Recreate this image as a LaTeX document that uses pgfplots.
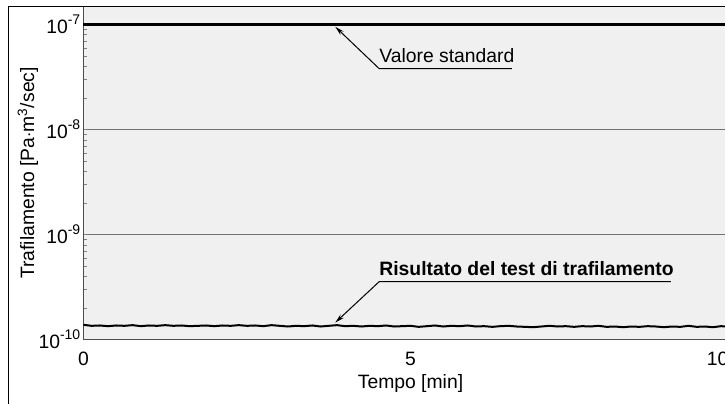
\documentclass[border=0pt]{standalone}
\usepackage{fontspec}
\setmainfont{Liberation Sans}
\usepackage{pgfplots}
\pgfplotsset{compat=1.18}
\usetikzlibrary{arrows.meta}
\definecolor{plotbg}{RGB}{240,240,240}
\newcommand\sups[1]{\raisebox{6.5pt}{\fontsize{10.5}{12}\selectfont #1}}

\pgfplotstableread{
x      y
0.000  1.38e-10
0.125  1.35e-10
0.250  1.36e-10
0.375  1.34e-10
0.500  1.36e-10
0.625  1.35e-10
0.750  1.37e-10
0.875  1.34e-10
1.000  1.36e-10
1.125  1.35e-10
1.250  1.37e-10
1.375  1.35e-10
1.500  1.36e-10
1.625  1.34e-10
1.750  1.35e-10
1.875  1.36e-10
2.000  1.34e-10
2.125  1.36e-10
2.250  1.35e-10
2.375  1.37e-10
2.500  1.35e-10
2.625  1.36e-10
2.750  1.34e-10
2.875  1.37e-10
3.000  1.35e-10
3.125  1.33e-10
3.250  1.35e-10
3.375  1.34e-10
3.500  1.36e-10
3.625  1.33e-10
3.750  1.35e-10
3.875  1.37e-10
4.000  1.34e-10
4.125  1.35e-10
4.250  1.33e-10
4.375  1.35e-10
4.500  1.34e-10
4.625  1.36e-10
4.750  1.33e-10
4.875  1.34e-10
5.000  1.35e-10
5.125  1.32e-10
5.250  1.34e-10
5.375  1.36e-10
5.500  1.33e-10
5.625  1.35e-10
5.750  1.34e-10
5.875  1.36e-10
6.000  1.33e-10
6.125  1.34e-10
6.250  1.32e-10
6.375  1.34e-10
6.500  1.35e-10
6.625  1.33e-10
6.750  1.32e-10
6.875  1.31e-10
7.000  1.33e-10
7.125  1.35e-10
7.250  1.33e-10
7.375  1.34e-10
7.500  1.32e-10
7.625  1.34e-10
7.750  1.33e-10
7.875  1.35e-10
8.000  1.32e-10
8.125  1.33e-10
8.250  1.31e-10
8.375  1.33e-10
8.500  1.32e-10
8.625  1.34e-10
8.750  1.33e-10
8.875  1.31e-10
9.000  1.33e-10
9.125  1.32e-10
9.250  1.35e-10
9.375  1.32e-10
9.500  1.33e-10
9.625  1.31e-10
9.750  1.34e-10
9.875  1.32e-10
10.000 1.33e-10
}\leaktest

\pgfplotstableread{
x   y
0   1e-7
10  1e-7
}\standard

\begin{document}
\begin{tikzpicture}
\begin{axis}[
  scale only axis,
  width=490.5pt, height=249.75pt,
  xmin=0, xmax=10,
  ymode=log, ymin=1e-10, ymax=1.483e-7,
  xtick={0,5}, xticklabels={0,5},
  extra x ticks={10}, extra x tick labels={10},
  extra x tick style={xticklabel style={xshift=-15pt}},
  ytick={1e-10,1e-9,1e-8,1e-7},
  yticklabels={10\sups{-10},10\sups{-9},10\sups{-8},10\sups{-7}},
  major tick length=0pt,
  ymajorgrids,
  grid style={black!55, line width=0.75pt},
  axis background/.style={fill=plotbg},
  axis line style={black!70, line width=0.75pt},
  ticklabel style={font=\fontsize{14.5}{17}\selectfont},
  xticklabel style={anchor=center, yshift=-14.6pt},
  yticklabel style={anchor=base east, inner sep=0pt, xshift=-2.2pt, yshift=-6.5pt},
  label style={font=\fontsize{14.5}{17}\selectfont},
  xlabel={Tempo [min]},
  ylabel={Trafilamento [Pa$\cdot$m\textsuperscript{3}/sec]},
  xlabel style={at={(axis description cs:0.5,0)}, anchor=center, yshift=-33pt},
  ylabel style={at={(axis description cs:0,0.5)}, anchor=center, yshift=41.6pt},
  clip=false,
]
\addplot[black, line width=2.2pt] table[x=x,y=y] {\standard};
\addplot[black, line width=1.5pt] table[x=x,y=y] {\leaktest};

\draw[line width=0.75pt, -{Stealth[length=7pt,width=3.5pt]}]
  (axis cs:6.55,3.8e-8) -- (axis cs:4.52,3.8e-8) -- (axis cs:3.85,0.95e-7);
\node[anchor=base west, inner sep=0pt, font=\fontsize{14.5}{17}\selectfont]
  at (axis cs:4.52,3.8e-8) [yshift=4.5pt] {Valore standard};

\draw[line width=0.75pt, -{Stealth[length=7pt,width=3.5pt]}]
  (axis cs:8.98,3.55e-10) -- (axis cs:4.52,3.55e-10) -- (axis cs:3.85,1.45e-10);
\node[anchor=base west, inner sep=0pt, font=\bfseries\fontsize{14.5}{17}\selectfont]
  at (axis cs:4.52,3.55e-10) [yshift=4.5pt] {Risultato del test di trafilamento};
\end{axis}
% outer frame, cut off at the right and bottom
\draw[black, line width=0.9pt] (-56.25pt,-60pt) -- (-56.25pt,249.75pt) -- (500pt,249.75pt);
\pgfresetboundingbox
\path[use as bounding box] (-62.6pt,-48pt) rectangle (481.1pt,254.6pt);
\end{tikzpicture}
\end{document}
